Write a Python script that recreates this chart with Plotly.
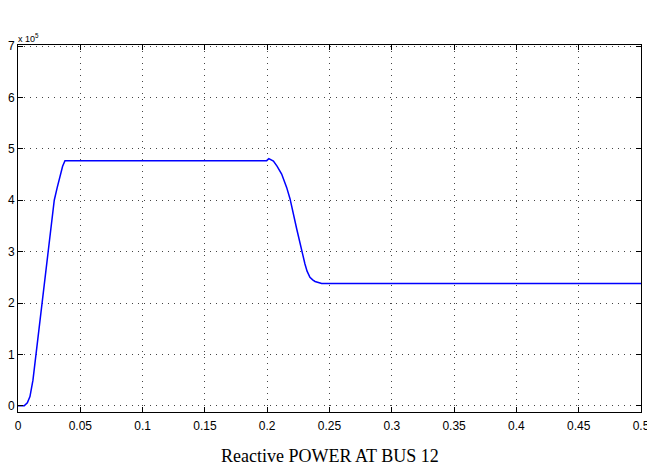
import plotly.graph_objects as go

# time (s) and reactive power (x1e5)
t = [0, 0.005, 0.0075, 0.0096, 0.012, 0.0144, 0.019, 0.0238, 0.0291, 0.0315, 0.0337,
     0.0358, 0.0377, 0.04,
     0.1996, 0.2013, 0.203, 0.205, 0.208, 0.2116, 0.2156, 0.2183, 0.2237, 0.2263,
     0.2285, 0.2303, 0.232, 0.2343, 0.2365, 0.2384, 0.2437, 0.5]
q = [0, 0, 0.06, 0.18, 0.5, 1.0, 2.0, 3.0, 4.0, 4.25, 4.48,
     4.66, 4.77, 4.77,
     4.77, 4.81, 4.79, 4.76, 4.66, 4.51, 4.25, 4.03, 3.44, 3.15,
     2.92, 2.76, 2.62, 2.50, 2.45, 2.42, 2.38, 2.38]

x_ticks = [0, 0.05, 0.1, 0.15, 0.2, 0.25, 0.3, 0.35, 0.4, 0.45, 0.5]
x_labels = ["0", "0.05", "0.1", "0.15", "0.2", "0.25", "0.3", "0.35", "0.4", "0.45", "0.5"]
y_ticks = [0, 1, 2, 3, 4, 5, 6, 7]
y_labels = ["0", "1", "2", "3", "4", "5", "6", "7"]
title_text = "Reactive POWER AT BUS 12"

tick_font = dict(family="Liberation Sans Narrow, Liberation Sans, Arial", size=12, color="black")

fig = go.Figure()
fig.add_trace(go.Scatter(x=t, y=q, mode="lines",
                         line=dict(color="#0000ff", width=1.5),
                         showlegend=False, hoverinfo="skip"))

axis_common = dict(
    showline=True, linecolor="black", linewidth=1, mirror="ticks",
    ticks="inside", ticklen=5, tickcolor="black", tickwidth=1,
    showgrid=True, gridcolor="#444444", gridwidth=1, griddash="1px,5px",
    zeroline=False, tickfont=tick_font, ticklabeloverflow="allow", automargin=False,
)

fig.update_xaxes(range=[0, 0.5], tickvals=x_ticks, ticktext=x_labels,
                 ticklabelstandoff=3, **axis_common)
fig.update_yaxes(range=[-0.12, 7.02], tickvals=y_ticks, ticktext=y_labels, **axis_common)

fig.add_annotation(xref="paper", yref="paper", x=0, y=1, xanchor="left", yanchor="bottom",
                   text="x 10<sup>5</sup>", showarrow=False,
                   font=dict(family="Liberation Sans Narrow, Liberation Sans, Arial", size=9, color="black"),
                   xshift=-2, yshift=-1)
fig.add_annotation(xref="paper", yref="paper", x=0.5, y=0, xanchor="center", yanchor="top",
                   text=title_text, showarrow=False, yshift=-32,
                   font=dict(family="Liberation Serif, Times New Roman, serif", size=18, color="black"))

fig.update_layout(
    width=647, height=475,
    margin=dict(l=18, r=6, t=45, b=63),
    plot_bgcolor="white", paper_bgcolor="white",
)

fig.write_html("out.html")
